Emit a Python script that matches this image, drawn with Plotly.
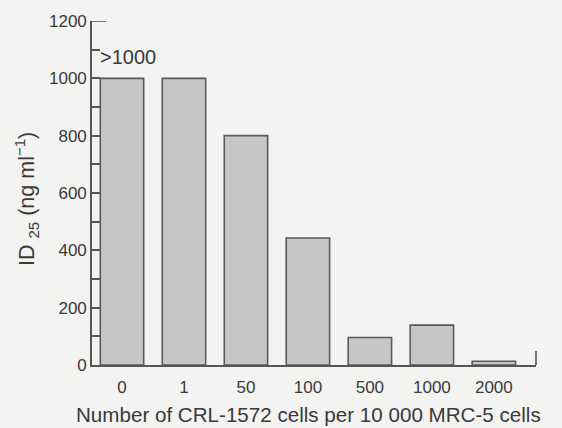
import plotly.graph_objects as go

categories = ["0", "1", "50", "100", "500", "1000", "2000"]
id25_values = [1000, 1000, 800, 443, 96, 139, 13]
y_tick_vals = [0, 200, 400, 600, 800, 1000, 1200]
y_tick_text = ["0", "200", "400", "600", "800", "1000", "1200"]
label_text = ">1000"
x_title = "Number of CRL-1572 cells per 10 000 MRC-5 cells"
y_title = "ID <sub>25</sub> (ng ml<sup>−1</sup>)"

positions = list(range(len(categories)))
text_color = "#3a3a3a"
axis_color = "#555555"
bg = "#f3f3f2"
font_family = "Liberation Sans, Arial, sans-serif"

fig = go.Figure()
fig.add_trace(go.Bar(
    x=positions,
    y=id25_values,
    width=0.70,
    marker=dict(color="#c6c6c6", line=dict(color="#5a5a5a", width=1.6)),
    showlegend=False,
))

fig.add_annotation(
    x=positions[0], y=id25_values[0], text=label_text,
    showarrow=False, yanchor="bottom", xanchor="center", xshift=6, yshift=8,
    font=dict(size=20, color=text_color, family=font_family),
)
# axis titles
fig.add_annotation(
    xref="paper", yref="paper", x=0.488, y=0, yshift=-49, text=x_title,
    showarrow=False, xanchor="center", yanchor="middle",
    font=dict(size=20.6, color=text_color, family=font_family),
)
fig.add_annotation(
    xref="paper", yref="paper", x=0, y=0.5, xshift=-66, yshift=-6, text=y_title,
    showarrow=False, xanchor="center", yanchor="middle", textangle=-90,
    font=dict(size=21.5, color=text_color, family=font_family),
)

# top cap of y axis and right end tick of x axis
fig.add_shape(type="line", xref="paper", yref="y", xsizemode="pixel", xanchor=0,
              x0=0, x1=14, y0=1200, y1=1200, line=dict(color=axis_color, width=1.6))
fig.add_shape(type="line", xref="paper", yref="y", ysizemode="pixel", yanchor=0,
              x0=1, x1=1, y0=0, y1=14, line=dict(color=axis_color, width=1.6))

fig.update_layout(
    width=562, height=428,
    margin=dict(l=92, r=26, t=21, b=63),
    paper_bgcolor=bg, plot_bgcolor=bg,
    font=dict(family=font_family, color=text_color, size=17),
    bargap=0.3,
)
fig.update_xaxes(
    range=[-0.484, 6.68],
    tickvals=positions, ticktext=categories,
    showgrid=False, zeroline=False, automargin=False,
    showline=True, linecolor=axis_color, linewidth=1.6,
    ticks="", ticklabelstandoff=6,
    tickfont=dict(size=17, color=text_color),
)
fig.update_yaxes(
    range=[0, 1200],
    tickvals=y_tick_vals, ticktext=y_tick_text,
    showgrid=False, zeroline=False, automargin=False,
    showline=True, linecolor=axis_color, linewidth=1.6,
    ticks="inside", ticklen=8, tickwidth=1.6, tickcolor=axis_color,
    minor=dict(dtick=100, ticks="inside", ticklen=8, tickwidth=1.6, tickcolor=axis_color, showgrid=False),
    tickfont=dict(size=17, color=text_color),
)

fig.write_html("out.html")
